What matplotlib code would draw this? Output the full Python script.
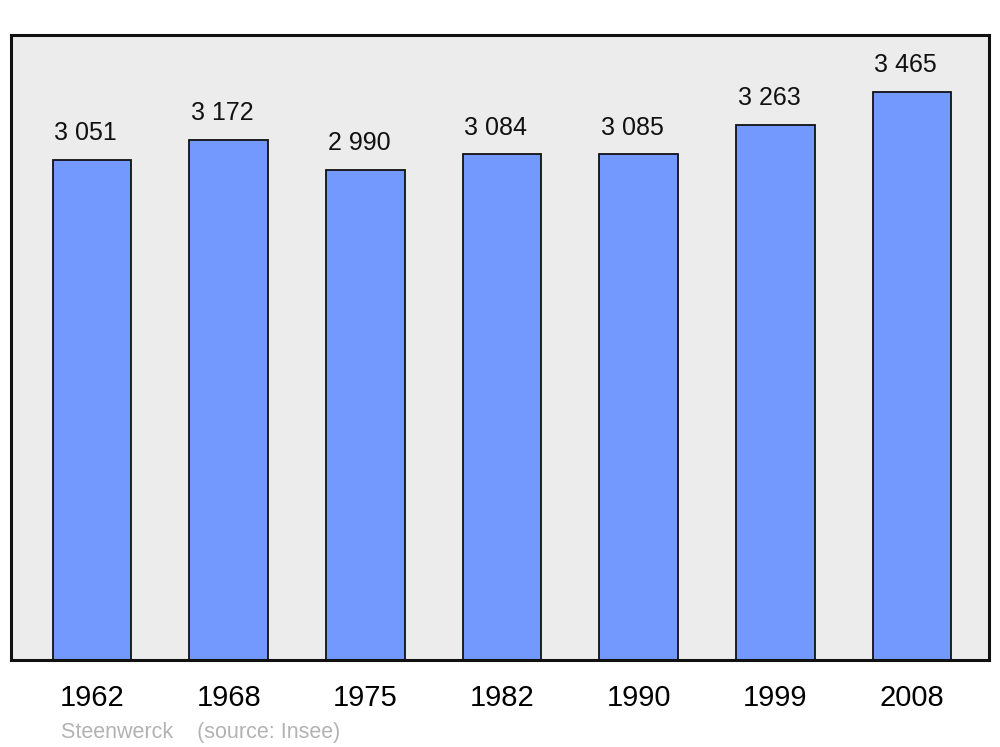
import matplotlib.pyplot as plt

plt.rcParams['font.family'] = ['Liberation Sans', 'DejaVu Sans']

# Données : population de Steenwerck
annees = ['1962', '1968', '1975', '1982', '1990', '1999', '2008']
population = [3051, 3172, 2990, 3084, 3085, 3263, 3465]
etiquettes = ['3 051', '3 172', '2 990', '3 084', '3 085', '3 263', '3 465']

fig = plt.figure(figsize=(10, 7.47), dpi=100)
ax = fig.add_axes([0.011, 0.1165, 0.978, 0.8367])
ax.set_facecolor('#ececec')

x = list(range(len(annees)))
ax.bar(x, population, width=0.575, color='#7399ff', edgecolor='#111111', linewidth=1.3, zorder=2)

# Étiquettes de valeur au-dessus des barres
for xi, val, lab in zip(x, population, etiquettes):
    ax.annotate(lab, (xi, val), xytext=(-4.5, 14), textcoords='offset points',
                ha='center', va='baseline', fontsize=18, color='#111111')

ax.set_xlim(-0.593, 6.564)
ax.set_ylim(0, max(population) * 1.1)
ax.set_xticks(x)
ax.set_xticklabels(annees, fontsize=21)
ax.tick_params(axis='x', length=0, pad=17)
ax.set_yticks([])
for s in ax.spines.values():
    s.set_linewidth(2.2)
    s.set_color('#111111')

fig.text(0.061, 0.0125, 'Steenwerck    (source: Insee)', fontsize=15.5, color='#b3b3b3',
         ha='left', va='baseline')

fig.savefig('out.png', dpi=100)
